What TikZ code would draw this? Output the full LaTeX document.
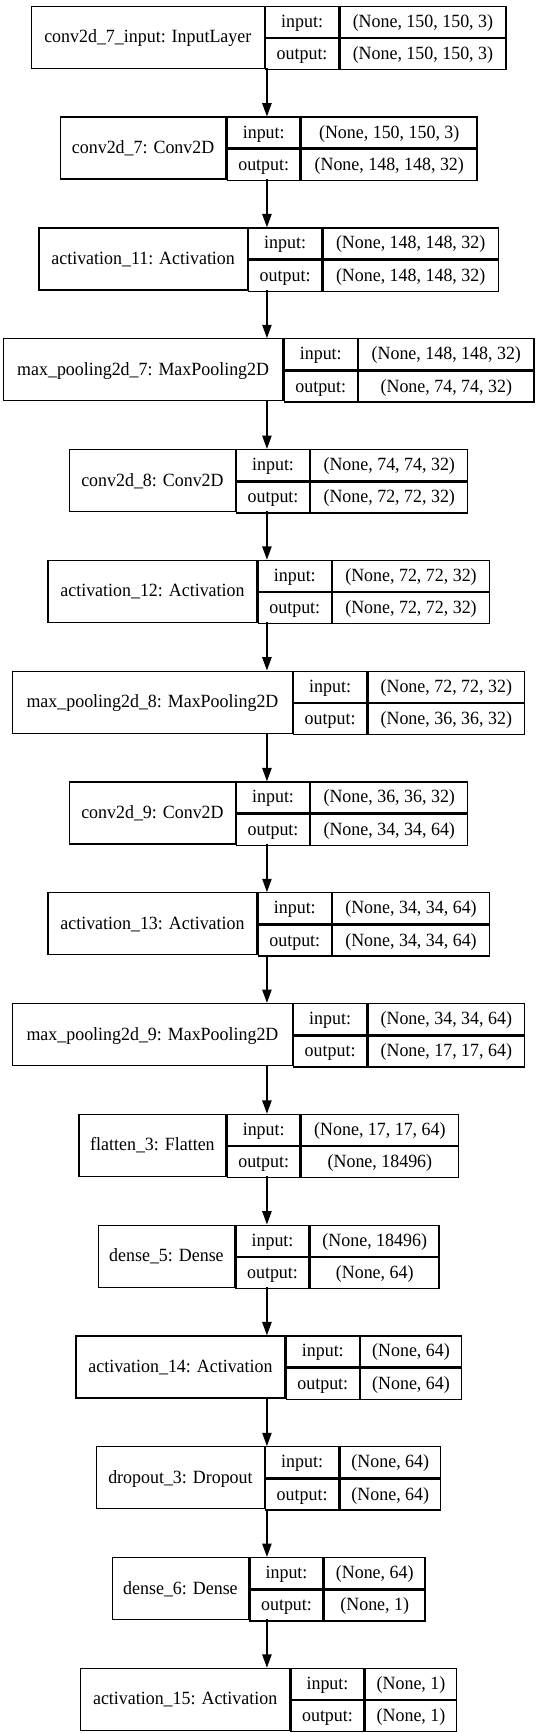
\documentclass[tikz,border=0pt]{standalone}
\usepackage{fontspec}
\setmainfont{Liberation Serif}
\newfontfamily\LyrFam[FakeStretch=0.96]{Liberation Serif}
\usetikzlibrary{arrows.meta}
\newcommand\lf{\fontsize{14pt}{16.8pt}\selectfont}
\newcommand\lff{\LyrFam\fontsize{14pt}{16.8pt}\selectfont}
\newlength\LyrWa \newlength\LyrWb \newlength\LyrWc \newlength\LyrWt
\tikzset{
  layerbox/.style={inner sep=0pt, minimum height=46.5pt},
  cell/.style={draw, line width=1pt, inner sep=0pt, minimum height=23.25pt,
    text height=11.1pt, text depth=2.9pt, font=\lff},
  conn/.style={draw, line width=1pt, -{Triangle[length=10pt,width=7pt]}},
}
\newcommand\mklayer[5]{% id, index, name, in, out
  \pgfinterruptpicture
    \lf
    \settowidth\LyrWa{#3}\global\advance\LyrWa by 13pt
    \settowidth\LyrWb{output:}\global\advance\LyrWb by 15pt
    \settowidth\LyrWc{#4}\settowidth\LyrWt{#5}%
    \ifdim\LyrWt>\LyrWc \LyrWc=\LyrWt\fi \global\advance\LyrWc by 15pt
  \endpgfinterruptpicture
  \pgfmathsetlengthmacro\ly{-(4.275+83.1*#2)*1pt}%
  \node[layerbox, minimum width=\LyrWa+\LyrWb+\LyrWc, anchor=north] (#1) at (200.2pt,\ly) {};
  \node[cell, minimum width=\LyrWa, minimum height=46.5pt, anchor=north west] (#1-name) at (#1.north west) {#3};
  \node[cell, minimum width=\LyrWb, anchor=north west] (#1-inl) at (#1-name.north east) {input:};
  \node[cell, minimum width=\LyrWb, anchor=north west] (#1-outl) at (#1-inl.south west) {output:};
  \node[cell, minimum width=\LyrWc, anchor=north west] (#1-in) at (#1-inl.north east) {#4};
  \node[cell, minimum width=\LyrWc, anchor=north west] (#1-out) at (#1-in.south west) {#5};
}
\begin{document}
\begin{tikzpicture}[x=1pt,y=1pt]
\fill[white] (0,0) rectangle (401.25,-1299.75);
\useasboundingbox (0,0) rectangle (401.25,-1299.75);
\mklayer{l0}{0}{conv2d\_7\_input: InputLayer}{(None, 150, 150, 3)}{(None, 150, 150, 3)}
\mklayer{l1}{1}{conv2d\_7: Conv2D}{(None, 150, 150, 3)}{(None, 148, 148, 32)}
\mklayer{l2}{2}{activation\_11: Activation}{(None, 148, 148, 32)}{(None, 148, 148, 32)}
\mklayer{l3}{3}{max\_pooling2d\_7: MaxPooling2D}{(None, 148, 148, 32)}{(None, 74, 74, 32)}
\mklayer{l4}{4}{conv2d\_8: Conv2D}{(None, 74, 74, 32)}{(None, 72, 72, 32)}
\mklayer{l5}{5}{activation\_12: Activation}{(None, 72, 72, 32)}{(None, 72, 72, 32)}
\mklayer{l6}{6}{max\_pooling2d\_8: MaxPooling2D}{(None, 72, 72, 32)}{(None, 36, 36, 32)}
\mklayer{l7}{7}{conv2d\_9: Conv2D}{(None, 36, 36, 32)}{(None, 34, 34, 64)}
\mklayer{l8}{8}{activation\_13: Activation}{(None, 34, 34, 64)}{(None, 34, 34, 64)}
\mklayer{l9}{9}{max\_pooling2d\_9: MaxPooling2D}{(None, 34, 34, 64)}{(None, 17, 17, 64)}
\mklayer{l10}{10}{flatten\_3: Flatten}{(None, 17, 17, 64)}{(None, 18496)}
\mklayer{l11}{11}{dense\_5: Dense}{(None, 18496)}{(None, 64)}
\mklayer{l12}{12}{activation\_14: Activation}{(None, 64)}{(None, 64)}
\mklayer{l13}{13}{dropout\_3: Dropout}{(None, 64)}{(None, 64)}
\mklayer{l14}{14}{dense\_6: Dense}{(None, 64)}{(None, 1)}
\mklayer{l15}{15}{activation\_15: Activation}{(None, 1)}{(None, 1)}
\foreach \a/\b in {l0/l1,l1/l2,l2/l3,l3/l4,l4/l5,l5/l6,l6/l7,l7/l8,l8/l9,l9/l10,l10/l11,l11/l12,l12/l13,l13/l14,l14/l15}
  \draw[conn] (\a.south) -- (\b.north);
\end{tikzpicture}
\end{document}
